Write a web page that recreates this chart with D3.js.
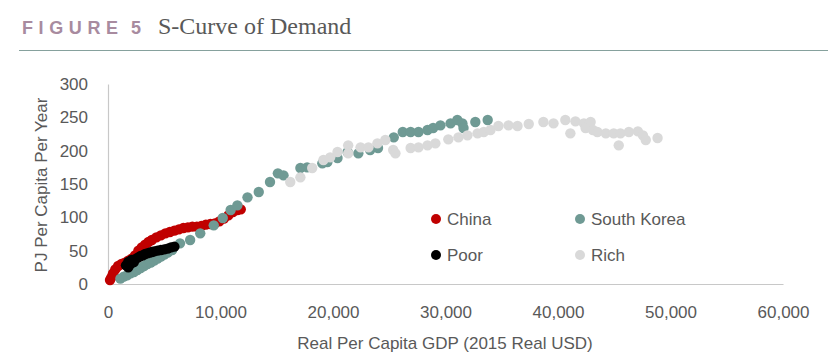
<!DOCTYPE html>
<html><head><meta charset="utf-8">
<script src="https://cdn.jsdelivr.net/npm/d3@7"></script>
<style>
body{margin:0;background:#fff;}
svg{display:block;}
</style></head>
<body><svg id="c" width="828" height="357"></svg>
<script>
// [GDP per capita (2015 USD), PJ per capita per year]
const china = [[180,6],[300,10],[450,16],[650,22],[900,27],[1200,30],[1500,32],[1800,35],[2100,38],[2400,43],[2700,50],[3000,55],[3300,59],[3600,63],[3900,66],[4300,70],[4700,73],[5100,76],[5500,78],[5900,80],[6300,82],[6700,84],[7100,85],[7500,86],[7900,86],[8300,87],[8700,89],[9100,90],[9500,91],[9900,94],[10300,98],[10700,103],[11100,108],[11500,111],[11800,112]];
const southKorea = [[1100,8],[1400,11],[1700,13],[2000,16],[2300,18],[2600,21],[2900,24],[3200,27],[3500,30],[3800,32],[4100,35],[4400,38],[4700,41],[5000,44],[5300,47],[5700,51],[6400,61],[7300,66],[8200,76],[9400,88],[10200,99],[10900,111],[11500,118],[12400,130],[13400,138],[14400,153],[15100,166],[15600,163],[17100,174],[17700,175],[19050,181],[19500,183],[20400,189],[21300,198],[22250,196],[23300,201],[24000,204],[25400,220],[26200,228],[26900,228],[27600,228],[28400,231],[28900,234],[29550,238],[30450,241],[31050,246],[31500,241],[31600,234],[32650,243],[33750,246]];
const poor = [[1600,28],[1800,25],[1800,33],[2000,30],[2100,36],[2300,33],[2500,38],[2700,40],[2900,42],[3100,43],[3300,45],[3500,46],[3700,47],[3900,48],[4100,49],[4400,50],[4700,51],[5000,52],[5300,53],[5600,55],[5900,56]];
const rich = [[16200,153],[17100,160],[18150,174],[19150,186],[19750,190],[20400,198],[21350,208],[21350,196],[22450,205],[23150,205],[23950,211],[24650,216],[25350,201],[25550,196],[26900,204],[27600,205],[28400,208],[29100,211],[30250,217],[31150,220],[31950,223],[32850,226],[33400,228],[34000,231],[34700,237],[35600,238],[36400,237],[37400,240],[38700,243],[39600,241],[40650,246],[41100,226],[41550,244],[42300,241],[42900,243],[42450,234],[43100,231],[43500,228],[44250,226],[44950,226],[45400,208],[45550,226],[46300,228],[47100,229],[47550,223],[47800,216],[48850,219]];
const xTicks = [0,10000,20000,30000,40000,50000,60000];
const yTicks = [0,50,100,150,200,250,300];
const seriesNames = ["China","South Korea","Poor","Rich"];
const seriesColors = ["#c00000","#6f9a94","#000000","#d9d9d9"];
const seriesData = [china, southKorea, poor, rich];

const svg = d3.select("#c");
const textCol = "#595959";
const font = "'Liberation Sans', Arial, sans-serif";

// Title
svg.append("text").attr("x",22).attr("y",33.5).text("FIGURE")
  .attr("font-family",font).attr("font-weight","bold")
  .attr("font-size",18).attr("letter-spacing",5.6).attr("fill","#a88b9f");
svg.append("text").attr("x",131).attr("y",33.5).text("5")
  .attr("font-family",font).attr("font-weight","bold")
  .attr("font-size",18).attr("fill","#a88b9f");
svg.append("text").attr("x",158).attr("y",33.5).text("S-Curve of Demand")
  .attr("font-family","'Liberation Serif', 'Times New Roman', serif")
  .attr("font-size",24).attr("fill","#595959");
svg.append("line").attr("x1",19).attr("x2",828).attr("y1",50.5).attr("y2",50.5)
  .attr("stroke","#86a19d").attr("stroke-width",1);

const x = d3.scaleLinear().domain([0,60000]).range([108,783]);
const y = d3.scaleLinear().domain([0,300]).range([284,84]);

const xAxis = svg.append("g").attr("transform","translate(0,284)")
  .call(d3.axisBottom(x).tickValues(xTicks).tickSize(0).tickPadding(22).tickFormat(d3.format(",")));
const yAxis = svg.append("g").attr("transform","translate(108,0)")
  .call(d3.axisLeft(y).tickValues(yTicks).tickSize(0).tickPadding(20));
[xAxis,yAxis].forEach(a=>{
  a.select(".domain").attr("stroke","#c8c8c8").attr("stroke-width",1.2);
  a.selectAll("text").attr("font-family",font).attr("font-size",17).attr("fill",textCol);
});

svg.append("text").attr("x",445).attr("y",349).attr("text-anchor","middle")
  .attr("font-family",font).attr("font-size",17).attr("fill",textCol)
  .text("Real Per Capita GDP (2015 Real USD)");
svg.append("text").attr("transform","translate(47,185) rotate(-90)").attr("text-anchor","middle")
  .attr("font-family",font).attr("font-size",17).attr("fill",textCol)
  .text("PJ Per Capita Per Year");

// Points
seriesData.forEach((data,i)=>{
  svg.append("g").selectAll("circle").data(data).join("circle")
    .attr("cx",d=>x(d[0])).attr("cy",d=>y(d[1])).attr("r",5.2)
    .attr("fill",seriesColors[i]);
});

// Legend
const legPos = [[436,219],[580,219],[436,255],[580,255]];
seriesNames.forEach((n,i)=>{
  const g = svg.append("g").attr("transform",`translate(${legPos[i][0]},${legPos[i][1]})`);
  g.append("circle").attr("r",5).attr("fill",seriesColors[i]);
  g.append("text").attr("x",11).attr("dy","0.35em").attr("font-family",font).attr("font-size",17)
    .attr("fill",textCol).text(n);
});
</script></body></html>
